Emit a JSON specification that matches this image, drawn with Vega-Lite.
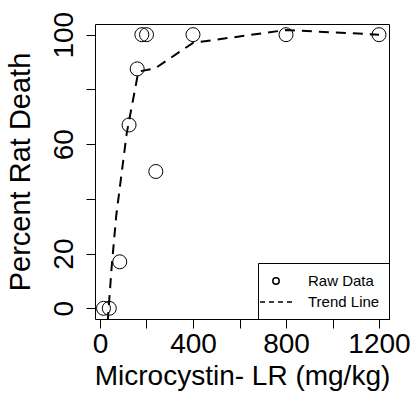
{
  "$schema": "https://vega.github.io/schema/vega-lite/v6.json",
  "width": 294,
  "height": 295,
  "autosize": "none",
  "padding": {"left": 95, "top": 24, "right": 25, "bottom": 74},
  "background": "white",
  "config": {
    "font": "Liberation Sans",
    "view": {"stroke": "black", "strokeWidth": 1},
    "axis": {
      "grid": false,
      "domain": false,
      "tickColor": "black",
      "tickWidth": 1,
      "tickSize": 9,
      "labelColor": "black",
      "labelFontSize": 28,
      "labelFont": "Liberation Sans",
      "titleColor": "black",
      "titleFontSize": 29,
      "titleFontWeight": "normal",
      "titleFont": "Liberation Sans",
      "labelOverlap": false
    },
    "legend": {
      "title": null,
      "orient": "bottom-right",
      "offset": 0,
      "strokeColor": "black",
      "fillColor": "white",
      "padding": 9,
      "rowPadding": 4,
      "labelFontSize": 15,
      "labelFont": "Liberation Sans",
      "labelColor": "black",
      "symbolSize": 256,
      "symbolStrokeWidth": 1.5,
      "symbolOffset": 0,
      "labelOffset": 23
    }
  },
  "layer": [
    {
      "data": {"values": [
        {"dose": 15, "death": 0, "series": "Raw Data"},
        {"dose": 40, "death": 0, "series": "Raw Data"},
        {"dose": 85, "death": 17, "series": "Raw Data"},
        {"dose": 125, "death": 67, "series": "Raw Data"},
        {"dose": 160, "death": 87.5, "series": "Raw Data"},
        {"dose": 180, "death": 100, "series": "Raw Data"},
        {"dose": 200, "death": 100, "series": "Raw Data"},
        {"dose": 240, "death": 50, "series": "Raw Data"},
        {"dose": 400, "death": 100, "series": "Raw Data"},
        {"dose": 800, "death": 100, "series": "Raw Data"},
        {"dose": 1200, "death": 100, "series": "Raw Data"}
      ]},
      "mark": {"type": "point", "shape": "circle", "size": 196, "filled": false, "strokeWidth": 1, "opacity": 1},
      "encoding": {
        "x": {
          "field": "dose", "type": "quantitative",
          "scale": {"domain": [-21.5, 1243], "nice": false, "zero": false},
          "axis": {
            "title": "Microcystin- LR (mg/kg)",
            "titleFontSize": 28,
            "values": [0, 200, 400, 600, 800, 1000, 1200],
            "format": "d",
            "labelExpr": "datum.value % 400 === 0 ? datum.label : ''",
            "labelBaseline": "alphabetic",
            "labelPadding": 24,
            "titleBaseline": "alphabetic",
            "titlePadding": 26
          }
        },
        "y": {
          "field": "death", "type": "quantitative",
          "scale": {"domain": [-3.9, 103.9], "nice": false, "zero": false},
          "axis": {
            "title": "Percent Rat Death",
            "values": [0, 20, 40, 60, 80, 100],
            "labelExpr": "datum.value === 40 || datum.value === 80 ? '' : datum.label",
            "labelAngle": -90,
            "labelAlign": "center",
            "labelBaseline": "alphabetic",
            "labelPadding": 14,
            "titlePadding": 15
          }
        },
        "color": {
          "field": "series", "type": "nominal",
          "scale": {"domain": ["Raw Data", "Trend Line"], "range": ["black", "black"]},
          "legend": {
            "encode": {
              "symbols": {
                "update": {
                  "shape": {"signal": "datum.value === 'Raw Data' ? 'M0.4,0A0.4,0.4 0 1,1 -0.4,0A0.4,0.4 0 1,1 0.4,0Z' : 'M-2,0H2'"},
                  "strokeDash": {"signal": "datum.value === 'Raw Data' ? [] : [5,4]"},
                  "fill": {"value": "transparent"},
                  "stroke": {"value": "black"}
                }
              }
            }
          }
        }
      }
    },
    {
      "data": {"values": [
        {"dose": 33, "death": -5, "series": "Trend Line"},
        {"dose": 50, "death": 15, "series": "Trend Line"},
        {"dose": 70, "death": 34, "series": "Trend Line"},
        {"dose": 115, "death": 64, "series": "Trend Line"},
        {"dose": 165, "death": 86.5, "series": "Trend Line"},
        {"dose": 237, "death": 87.7, "series": "Trend Line"},
        {"dose": 400, "death": 97, "series": "Trend Line"},
        {"dose": 800, "death": 101.7, "series": "Trend Line"},
        {"dose": 1200, "death": 100, "series": "Trend Line"}
      ]},
      "mark": {"type": "line", "strokeDash": [10, 7], "strokeWidth": 2, "clip": true},
      "encoding": {
        "x": {"field": "dose", "type": "quantitative"},
        "y": {"field": "death", "type": "quantitative"},
        "color": {
          "field": "series", "type": "nominal",
          "legend": {
            "encode": {
              "symbols": {
                "update": {
                  "shape": {"signal": "datum.value === 'Raw Data' ? 'M0.4,0A0.4,0.4 0 1,1 -0.4,0A0.4,0.4 0 1,1 0.4,0Z' : 'M-2,0H2'"},
                  "strokeDash": {"signal": "datum.value === 'Raw Data' ? [] : [5,4]"},
                  "fill": {"value": "transparent"},
                  "stroke": {"value": "black"}
                }
              }
            }
          }
        }
      }
    }
  ]
}
